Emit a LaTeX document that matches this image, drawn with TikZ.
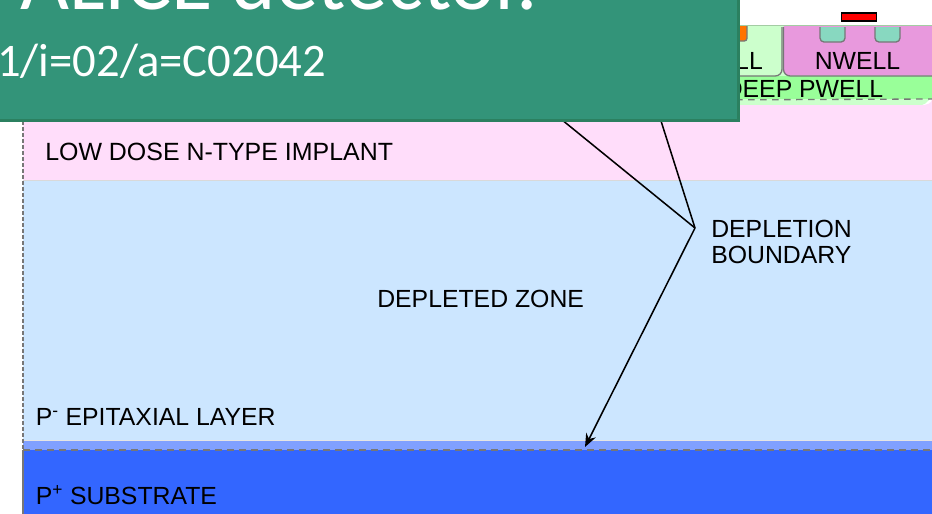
\documentclass[tikz,border=0pt]{standalone}
\usepackage{fontspec}
\setmainfont{Liberation Sans}
\newfontfamily\headfont{Carlito}
\usetikzlibrary{arrows.meta}
\definecolor{hdr}{HTML}{339479}
\definecolor{hdredge}{HTML}{2B8060}
\definecolor{pinklayer}{HTML}{FFDDFA}
\definecolor{epi}{HTML}{CCE6FF}
\definecolor{midblue}{HTML}{80A0FF}
\definecolor{subst}{HTML}{3366FF}
\definecolor{deepp}{HTML}{99FF99}
\definecolor{pale}{HTML}{CCFFCC}
\definecolor{nw}{HTML}{E899DD}
\definecolor{ct}{HTML}{88D8C0}
\definecolor{edge}{HTML}{777777}
\tikzset{
  lbl/.style={inner sep=0pt,font=\fontsize{18.6}{19.6}\selectfont,text=black,anchor=base west},
  well/.style={draw=edge,line width=1pt,rounded corners=5pt},
  pointer/.style={draw=black,line width=1.15pt},
  hdrtext/.style={inner sep=0pt,text=white,anchor=base west}
}
\begin{document}
\begin{tikzpicture}[x=0.75pt,y=-0.75pt]
\path[use as bounding box] (0,0) rectangle (932,514);
\clip (0,0) rectangle (932,514);
\fill[white] (0,0) rectangle (932,514);
% layers
\fill[pale] (700,25) -- (932,25) -- (932,99) to[out=90,in=0] (922,105) -- (700,105) -- cycle;
\fill[pinklayer] (23,105) -- (922,105) to[out=0,in=-90] (932,99) -- (932,181) -- (23,181) -- cycle;
\fill[epi] (23,181) rectangle (932,440);
\fill[midblue] (23,440) rectangle (932,450);
\fill[subst] (23,450) rectangle (932,514);
\draw[white!85!black,line width=0.6pt] (23,180.5) -- (932,180.5);
\draw[white!90!black,line width=0.6pt] (23,440) -- (932,440);
% wells
\fill[deepp] (700,76) rectangle (932,99);
\draw[edge,line width=1pt,dash pattern=on 5pt off 4pt] (700,100) -- (932,99);
\draw[well] (700,76) -- (782,76) -- (782,27);
\fill[nw,rounded corners=5pt] (783.5,20) -- (783.5,75.5) -- (940,75.5) -- (940,20) -- cycle;
\fill[pale] (780,20) rectangle (940,26);
\draw[well] (783.5,27) -- (783.5,76) -- (932,76);
\path[well,rounded corners=2pt,fill=orange!90!red] (730,20) -- (747,20) -- (747,41) -- (730,41) -- cycle;
\path[well,rounded corners=3pt,fill=ct] (820,27) -- (820,42) -- (845,42) -- (845,27);
\path[well,rounded corners=3pt,fill=ct] (875,27) -- (875,42) -- (900,42) -- (900,27);
\fill[white] (700,0) rectangle (932,25);
\draw[pale!80!black,line width=0.8pt] (700,25.5) -- (932,25.5);
\node[draw=black,fill=red,line width=1pt,minimum width=26pt,minimum height=6.2pt,inner sep=0pt] (gate) at (859,17) {};
% side and interface lines
\draw[edge,line width=1.1pt,dash pattern=on 3pt off 1.5pt] (23,121) -- (23,450);
\draw[edge,line width=1.1pt] (23,450) -- (23,514);
\draw[edge,line width=1pt,dash pattern=on 5pt off 4pt] (23,450) -- (932,450);
% labels
\node[lbl] (nwelllbl) at (814.5,69) {NWELL};
\node[lbl] (welllbl) at (695,69) {WELL};
\node[lbl] (deeplbl) at (724.5,97) {DEEP PWELL};
\node[lbl,font=\fontsize{18.7}{19.6}\selectfont] (implant) at (45,160) {LOW DOSE N-TYPE IMPLANT};
\node[lbl] (zone) at (377,307) {DEPLETED ZONE};
\node[lbl,align=left,anchor=north west] (bound) at (711,219.5) {DEPLETION\\BOUNDARY};
\node[lbl] (epilbl) at (35.5,425) {P\textsuperscript{-} EPITAXIAL LAYER};
\node[lbl] (sublbl) at (35.5,504) {P\textsuperscript{+} SUBSTRATE};
% pointers
\coordinate (hub) at (695,228);
\coordinate (t1) at (540,102);
\coordinate (t2) at (655,102);
\coordinate (t3) at (585,447);
\draw[pointer] (hub) -- (t1);
\draw[pointer] (hub) -- (t2);
\draw[pointer,-{Stealth[length=10pt,width=8pt]}] (hub) -- (t3);
% header banner
\node[draw=hdredge,fill=hdr,line width=2pt,inner sep=0pt,minimum width=800pt,minimum height=150pt,anchor=south east] (banner) at (740,122) {};
\node[hdrtext,font=\headfont\fontsize{63.5}{63.5}\selectfont] (title) at (20,9) {ALICE detector.};
\node[hdrtext,font=\headfont\fontsize{35}{35}\selectfont] (ref) at (-3,76) {1/i=02/a=C02042};
\end{tikzpicture}
\end{document}
